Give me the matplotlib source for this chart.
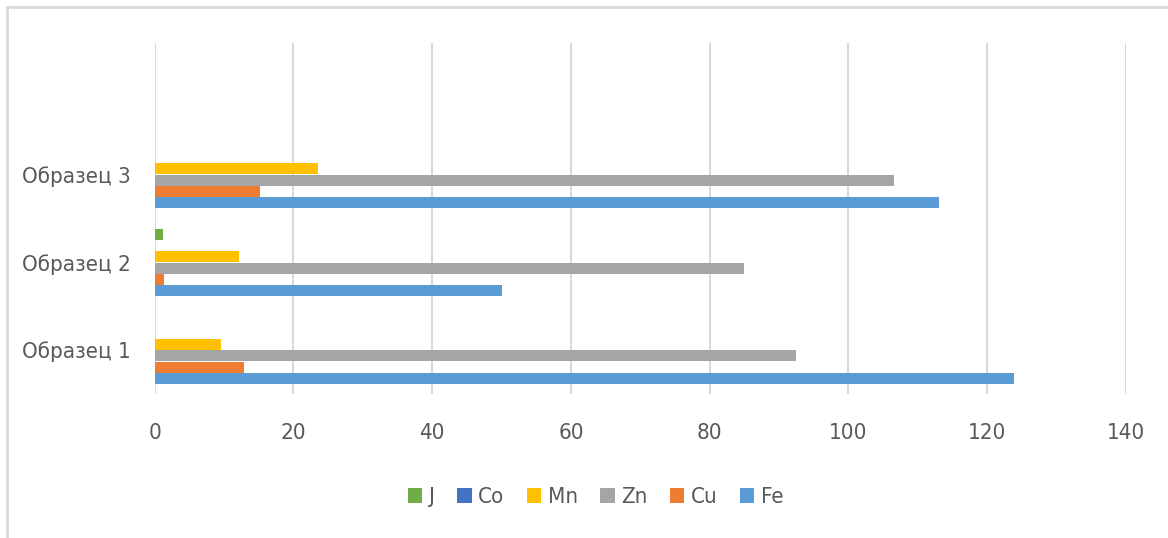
import matplotlib
matplotlib.use("Agg")
import matplotlib.pyplot as plt
import numpy as np
from matplotlib.lines import Line2D

categories = ["Образец 1", "Образец 2", "Образец 3"]
series_names = ["Fe", "Cu", "Zn", "Mn", "Co", "J"]
fe = [123.9, 50.0, 113.0]
cu = [12.9, 1.35, 15.2]
zn = [92.5, 85.0, 106.5]
mn = [9.6, 12.2, 23.6]
co = [0.0, 0.0, 0.0]
j_vals = [0.0, 1.15, 0.0]
colors = ["#5B9BD5", "#ED7D31", "#A5A5A5", "#FFC000", "#4472C4", "#70AD47"]
xticks = [0, 20, 40, 60, 80, 100, 120, 140]

plt.rcParams['font.family'] = ['DejaVu Sans']
plt.rcParams['font.stretch'] = 'condensed'
FS = 16

fig = plt.figure(figsize=(11.68, 5.38), dpi=100)
ax = fig.add_axes([154.7/1168, 1-394/538, (1126-154.7)/1168, (394-43)/538])

data = [fe, cu, zn, mn, co, j_vals]
n = len(data)
bh = 0.129
y = np.arange(len(categories))
handles = []
for i, (vals, name, c) in enumerate(zip(data, series_names, colors)):
    off = (i - (n - 1) / 2) * bh
    b = ax.barh(y + off, vals, height=bh * 0.97, color=c, label=name,
                edgecolor='none')
    handles.append(b)

ax.set_xlim(0, 140)
ax.set_ylim(-0.5, 3.5)
ax.set_xticks(xticks)
ax.set_yticks(y)
ax.set_yticklabels(categories)
ax.grid(axis='x', color='#D9D9D9', linewidth=1.5)
ax.set_axisbelow(True)
for s in ax.spines.values():
    s.set_visible(False)
ax.tick_params(axis='both', length=0, labelsize=FS, labelcolor='#595959')
ax.tick_params(axis='x', pad=21)
ax.tick_params(axis='y', pad=17)

order = [5, 4, 3, 2, 1, 0]
leg = fig.legend([handles[i] for i in order], [series_names[i] for i in order],
                 loc='center', bbox_to_anchor=(0.51, 1-497/538), ncol=6, frameon=False,
                 fontsize=FS, handlelength=0.65, handleheight=0.65, handletextpad=0.3,
                 columnspacing=1.0)
for t in leg.get_texts():
    t.set_color('#595959')

# chart border
fig.add_artist(Line2D([7/1168, 7/1168], [0, 1-7/538], transform=fig.transFigure, color='#D9D9D9', linewidth=2))
fig.add_artist(Line2D([7/1168, 1], [1-7/538, 1-7/538], transform=fig.transFigure, color='#D9D9D9', linewidth=2))

fig.savefig("out.png", dpi=100)
